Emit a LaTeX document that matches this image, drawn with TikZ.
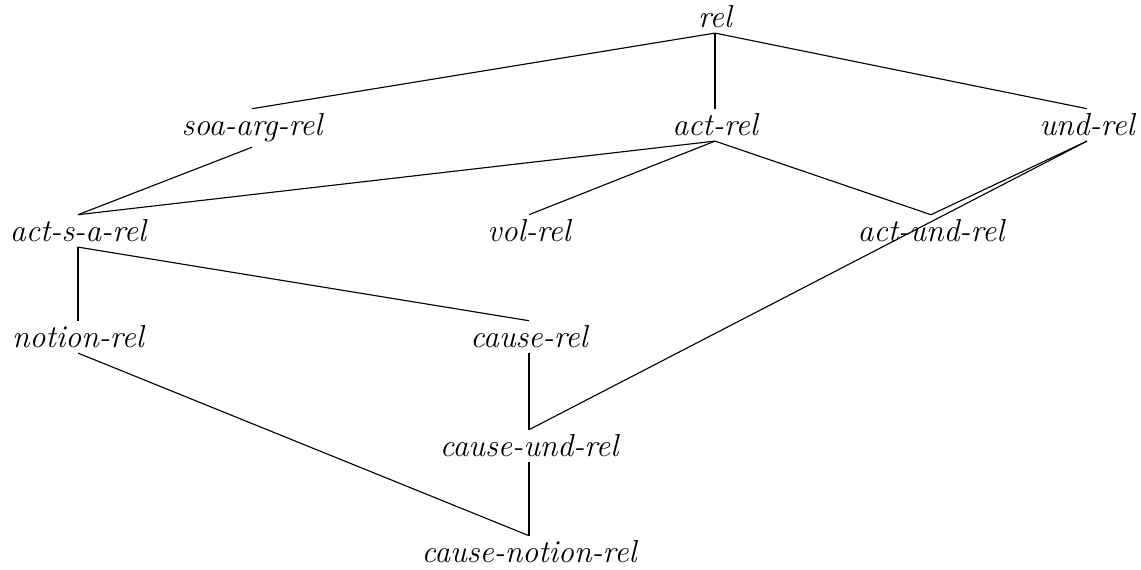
\documentclass[tikz,border=0pt]{standalone}
\usepackage{tikz}
\usepackage{amsmath}
\usetikzlibrary{positioning,calc}

\tikzset{
  typ/.style={font=\fontsize{11.3pt}{13.5pt}\selectfont\itshape, inner xsep=0pt, inner ysep=1.5pt, text height=8pt, anchor=base},
  isa/.style={draw, line width=0.4pt}
}

\begin{document}
\begin{tikzpicture}[x=0.0125cm, y=-0.0125cm]
\useasboundingbox (0,0) rectangle (1141,570);
\node[typ] (rel) at (715,28) {rel};
\node[typ] (soaarg) at (252,136) {soa-arg-rel};
\node[typ] (act) at (715,136) {act-rel};
\node[typ] (und) at (1087,136) {und-rel};
\node[typ] (actsa) at (78,242) {act-s-a-rel};
\node[typ] (vol) at (529,242) {vol-rel};
\node[typ] (actund) at (931,242) {act-und-rel};
\node[typ] (notion) at (78,348) {notion-rel};
\node[typ] (cause) at (529,348) {cause-rel};
\node[typ] (causeund) at (529,457) {cause-und-rel};
\node[typ] (causenotion) at (529,563) {cause-notion-rel};

\draw[isa] (rel.south) -- (soaarg.north);
\draw[isa] (rel.south) -- (act.north);
\draw[isa] (rel.south) -- (und.north);
\draw[isa] (soaarg.south) -- (actsa.north);
\draw[isa] (act.south) -- (actsa.north);
\draw[isa] (act.south) -- (vol.north);
\draw[isa] (act.south) -- (actund.north);
\draw[isa] (und.south) -- (actund.north);
\draw[isa] (und.south) -- (causeund.north);
\draw[isa] (actsa.south) -- (notion.north);
\draw[isa] (actsa.south) -- (cause.north);
\draw[isa] (notion.south) -- (causenotion.north);
\draw[isa] (cause.south) -- (causeund.north);
\draw[isa] (causeund.south) -- (causenotion.north);
\end{tikzpicture}
\end{document}
